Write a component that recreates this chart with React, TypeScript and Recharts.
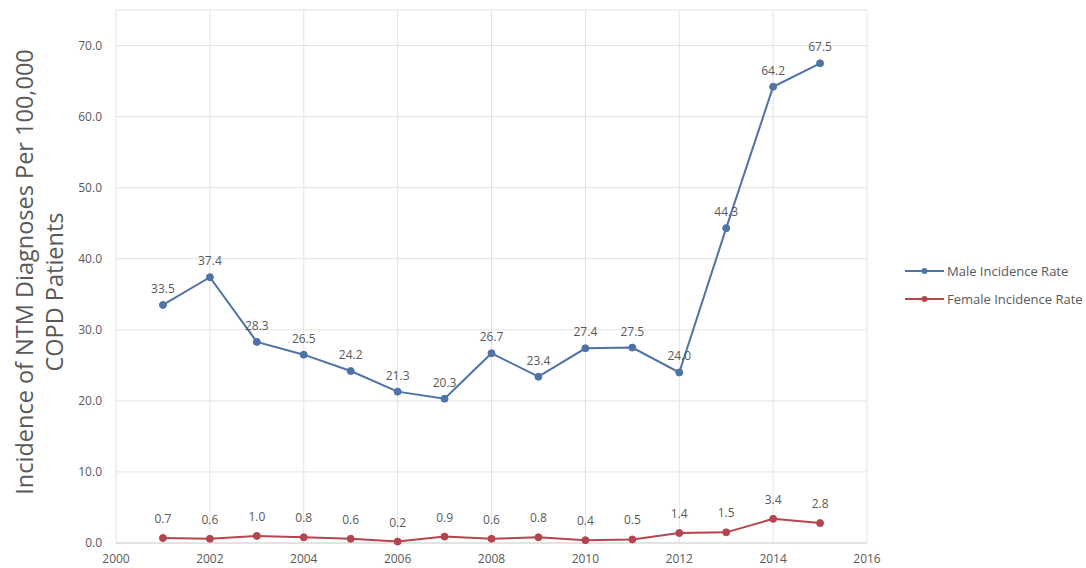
import React from "react";
import {
  LineChart,
  Line,
  XAxis,
  YAxis,
  CartesianGrid,
  LabelList,
  Legend,
  Label,
} from "recharts";

// Years of observation
const years = [2001, 2002, 2003, 2004, 2005, 2006, 2007, 2008, 2009, 2010, 2011, 2012, 2013, 2014, 2015];

// Incidence of NTM diagnoses per 100,000 COPD patients
const maleRate = [33.5, 37.4, 28.3, 26.5, 24.2, 21.3, 20.3, 26.7, 23.4, 27.4, 27.5, 24.0, 44.3, 64.2, 67.5];
const femaleRate = [0.7, 0.6, 1.0, 0.8, 0.6, 0.2, 0.9, 0.6, 0.8, 0.4, 0.5, 1.4, 1.5, 3.4, 2.8];

const xTicks = [2000, 2002, 2004, 2006, 2008, 2010, 2012, 2014, 2016];
const yTicks = [0, 10, 20, 30, 40, 50, 60, 70];

const seriesNames = ["Male Incidence Rate", "Female Incidence Rate"];
const yTitleLines = ["Incidence of NTM Diagnoses Per 100,000", "COPD Patients"];

const data = years.map((year, i) => ({
  year,
  male: maleRate[i],
  female: femaleRate[i],
}));

const MALE_COLOR = "#4e73a5";
const FEMALE_COLOR = "#b4454f";
const TEXT_COLOR = "#595959";
const GRID_COLOR = "#e3e3e3";
const FONT = "'Open Sans', 'Noto Sans', sans-serif";

const fmt = (v: any) => Number(v).toFixed(1);

// Two-line rotated title for the value axis
const YTitle = () => (
  <g fill={TEXT_COLOR} fontFamily={FONT} fontSize={23.5}>
    <text x={24} y={272} transform="rotate(-90 24 272)" textAnchor="middle" dominantBaseline="central">
      {yTitleLines[0]}
    </text>
    <text x={54} y={292} transform="rotate(-90 54 292)" textAnchor="middle" dominantBaseline="central">
      {yTitleLines[1]}
    </text>
  </g>
);

const LegendContent = () => {
  const colors = [MALE_COLOR, FEMALE_COLOR];
  return (
    <div style={{ fontFamily: FONT, fontSize: 13, color: TEXT_COLOR }}>
      {seriesNames.map((name, i) => (
        <div key={name} style={{ display: "flex", alignItems: "center", height: 28 }}>
          <svg width={42} height={10} style={{ display: "block" }}>
            <line x1={0} y1={5} x2={39} y2={5} stroke={colors[i]} strokeWidth={2} />
            <circle cx={19.5} cy={5} r={3} fill={colors[i]} />
          </svg>
          <span style={{ whiteSpace: "nowrap" }}>{name}</span>
        </div>
      ))}
    </div>
  );
};

export default function App() {
  return (
    <div style={{ position: "absolute", left: 0, top: 0, width: 1086, height: 568, background: "#fff" }}>
      <LineChart
        width={1086}
        height={568}
        data={data}
        margin={{ top: 10, right: 219, bottom: 5, left: 0 }}
      >
        <CartesianGrid stroke={GRID_COLOR} strokeWidth={1} />
        <XAxis
          dataKey="year"
          type="number"
          domain={[2000, 2016]}
          ticks={xTicks}
          height={20}
          tickSize={0}
          tickMargin={11}
          axisLine={{ stroke: "#d4d4d4" }}
          tick={{ fill: TEXT_COLOR, fontSize: 12, fontFamily: FONT }}
        />
        <YAxis
          type="number"
          domain={[0, 75]}
          ticks={yTicks}
          width={116}
          tickSize={0}
          tickMargin={14}
          axisLine={false}
          tickFormatter={fmt}
          tick={{ fill: TEXT_COLOR, fontSize: 12, fontFamily: FONT }}
        >
          <Label content={<YTitle />} />
        </YAxis>
        <Legend
          layout="vertical"
          align="center"
          verticalAlign="middle"
          content={<LegendContent />}
          wrapperStyle={{ left: 905, top: 257, width: 181 }}
        />
        <Line
          type="linear"
          dataKey="male"
          name={seriesNames[0]}
          stroke={MALE_COLOR}
          strokeWidth={2}
          dot={{ r: 3.5, fill: MALE_COLOR, stroke: MALE_COLOR, strokeWidth: 1 }}
          isAnimationActive={false}
        >
          <LabelList
            dataKey="male"
            position="top"
            offset={12}
            formatter={fmt}
            style={{ fill: TEXT_COLOR, fontSize: 12, fontFamily: FONT }}
          />
        </Line>
        <Line
          type="linear"
          dataKey="female"
          name={seriesNames[1]}
          stroke={FEMALE_COLOR}
          strokeWidth={2}
          dot={{ r: 3.5, fill: FEMALE_COLOR, stroke: FEMALE_COLOR, strokeWidth: 1 }}
          isAnimationActive={false}
        >
          <LabelList
            dataKey="female"
            position="top"
            offset={15}
            formatter={fmt}
            style={{ fill: TEXT_COLOR, fontSize: 12, fontFamily: FONT }}
          />
        </Line>
      </LineChart>
    </div>
  );
}
